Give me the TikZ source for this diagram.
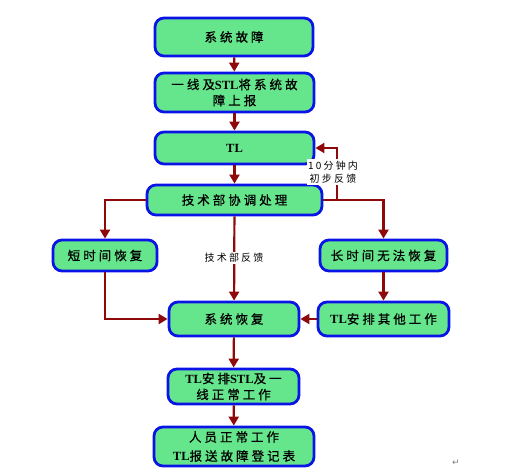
\documentclass[tikz,border=0pt]{standalone}
\usepackage{fontspec}
\setmainfont{Liberation Serif}
\newfontfamily\cjk[LetterSpace=22]{Noto Sans CJK SC}
\newfontfamily\cjkb[LetterSpace=24,FakeBold=0.8]{Noto Sans CJK SC}
\newfontfamily\symb{DejaVu Sans}
\usetikzlibrary{arrows.meta}
\definecolor{boxfill}{HTML}{66E68C}
\definecolor{boxline}{HTML}{0A14E6}
\definecolor{flow}{HTML}{8E0A0A}
\newcommand{\lat}[1]{{\rmfamily\bfseries #1}}

\begin{document}
\begin{tikzpicture}[x=1pt,y=-1pt,
      box/.style={draw=boxline,fill=boxfill,line width=2.8pt,rounded corners=9pt,align=center,inner sep=2pt,font=\cjkb\fontsize{12.5}{16}\selectfont},
      arr/.style={-{Triangle[length=9pt,width=10pt]},line width=2.2pt,draw=flow},
      note/.style={fill=white,inner sep=1.5pt,align=center,font=\cjk\fontsize{10}{13}\selectfont}
    ]
      \useasboundingbox (0,0) rectangle (508,475);
      \node[box,minimum width=158pt,minimum height=38pt] (a) at (234,37) {系统故障};
      \node[box,minimum width=159pt,minimum height=39pt] (b) at (234.5,92.5) {一线及\lat{STL}将系统故\\障上报};
      \node[box,minimum width=159pt,minimum height=32pt] (c) at (234.5,148) {\lat{TL}};
      \node[box,minimum width=175pt,minimum height=30pt] (d) at (234.5,200) {技术部协调处理};
      \node[box,minimum width=104pt,minimum height=31pt] (e) at (105,255.5) {短时间恢复};
      \node[box,minimum width=127pt,minimum height=31pt] (f) at (383.5,255.5) {长时间无法恢复};
      \node[box,minimum width=130pt,minimum height=34pt] (g) at (234,319) {系统恢复};
      \node[box,minimum width=131pt,minimum height=34pt] (h) at (383.5,319) {\lat{TL}安排其他工作};
      \node[box,minimum width=131pt,minimum height=35pt] (i) at (233.5,386.5) {\lat{TL}安排\lat{STL}及一\\线正常工作};
      \node[box,minimum width=160pt,minimum height=39pt] (j) at (234,446.5) {人员正常工作\\[3pt]\lat{TL}报送故障登记表};
      \coordinate (fb) at (337,200);
      \draw[arr] (a)--(b);
      \draw[arr] (b)--(c);
      \draw[arr] (c)--(d);
      \draw[arr] (d.west) -| (e.north);
      \draw[arr] (d.east) -| (f.north);
      \draw[arr] (fb) |- (c.east);
      \node[note] (fbl) at (333,172) {10分钟内\\初步反馈};
      \draw[arr] (d)--(g);
      \node[note] (tl) at (234,258) {技术部反馈};
      \draw[arr] (e.south) |- (g.west);
      \draw[arr] (f)--(h);
      \draw[arr] (h)--(g);
      \draw[arr] (g)--(i);
      \draw[arr] (i)--(j);
      \node[font=\symb\fontsize{9}{9}\selectfont,text=gray] (pm) at (456,463) {↵};
    \end{tikzpicture}
\end{document}
